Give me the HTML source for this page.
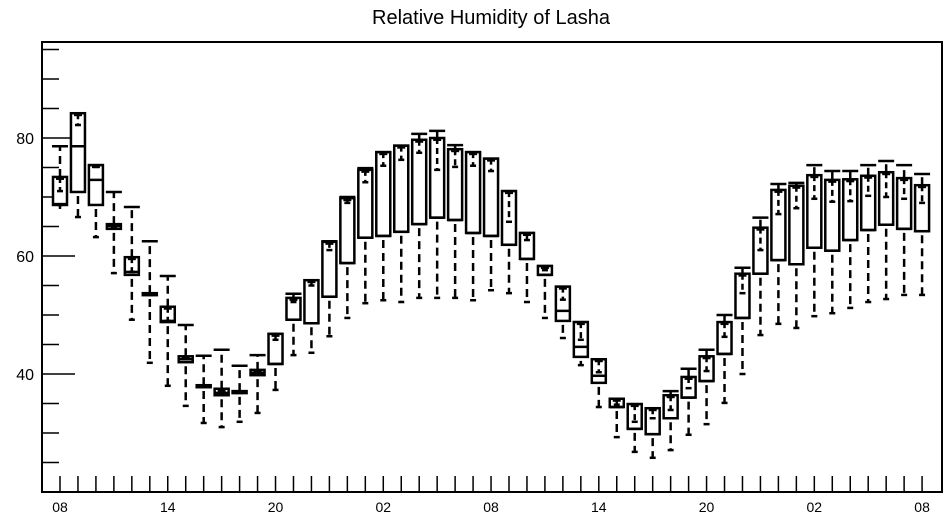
<!DOCTYPE html>
<html><head><meta charset="utf-8"><style>
html,body{margin:0;padding:0;background:#fff;}
svg{display:block;font-family:"Liberation Sans",sans-serif;}
</style></head><body>
<svg id="chart" width="947" height="520" viewBox="0 0 947 520" xmlns="http://www.w3.org/2000/svg">
<text x="491" y="24" font-size="20" text-anchor="middle" fill="#000">Relative Humidity of Lasha</text>
<g id="plot"></g>
<rect x="42" y="42" width="900" height="450" fill="none" stroke="#000" stroke-width="2"/>
</svg>
<script>
const xLabels = ["08","14","20","02","08","14","20","02","08"];
const yTicks = [40,60,80];
const mins = [68.65,66.6,63.2,57.1,49.2,41.9,38.0,34.6,31.7,31.0,31.9,33.4,37.3,43.2,43.6,46.4,49.5,52.0,52.5,52.2,52.9,52.9,52.9,52.5,54.2,53.7,52.2,49.5,46.1,41.5,34.4,29.3,26.8,25.8,27.1,29.7,31.5,35.1,40.0,46.6,48.5,47.8,49.8,50.3,51.2,52.2,52.7,53.4,53.4];
const q1s = [68.65,70.85,68.65,64.6,56.8,53.4,48.8,42.0,37.8,36.4,36.8,39.8,41.7,49.2,48.6,53.1,58.8,63.1,63.4,64.1,65.4,66.5,66.1,63.9,63.4,61.9,59.5,56.8,49.0,42.9,38.5,34.4,30.7,29.8,32.5,36.0,38.8,43.4,49.5,57.0,59.3,58.6,61.4,60.9,62.7,64.4,65.3,64.6,64.2];
const medians = [68.8,78.6,72.9,65.1,57.3,53.5,49.0,42.5,37.9,36.8,36.9,40.2,41.7,49.2,48.6,53.1,58.8,63.1,63.4,64.1,65.4,66.5,66.1,63.9,63.4,61.9,59.5,56.8,50.7,44.6,39.7,34.4,30.7,29.8,32.5,36.0,38.8,43.4,49.5,57.0,59.3,58.6,61.4,60.9,62.7,64.4,65.3,64.6,64.2];
const q3s = [73.4,84.2,75.4,65.4,59.8,53.7,51.4,43.0,38.1,37.5,37.1,40.7,46.8,52.9,55.9,62.4,69.8,74.6,77.6,78.7,79.7,80.0,78.1,77.6,76.5,71.0,63.9,58.3,54.8,48.8,42.5,35.8,34.9,34.2,36.4,39.5,43.0,48.8,57.0,64.8,71.2,71.9,73.7,72.9,73.0,73.6,74.2,73.2,72.0];
const maxs = [78.6,84.2,75.4,70.85,68.3,62.5,56.6,48.3,43.1,44.1,41.4,43.2,46.8,53.6,55.9,62.5,70.0,74.9,77.6,78.7,80.7,81.2,78.8,77.6,76.5,71.0,63.9,58.3,54.8,48.8,42.5,35.8,34.9,34.2,37.1,40.9,44.1,50.0,58.0,66.5,72.2,72.4,75.4,74.4,74.4,75.4,76.1,75.4,73.9];
const means = [71.0,82.2,75.1,64.9,57.3,53.5,49.0,42.5,37.9,36.8,36.9,40.2,45.8,52.2,55.0,61.0,69.0,72.5,75.3,76.3,77.5,74.6,75.1,75.3,74.4,65.8,62.7,57.6,52.6,45.8,40.3,34.8,31.9,32.5,33.9,37.6,40.5,46.3,53.7,61.0,67.1,68.1,69.7,69.2,69.3,70.2,70.0,69.7,69.0];

const NS = "http://www.w3.org/2000/svg";
const g = document.getElementById("plot");
const X0 = 42, X1 = 942, Y0 = 42, Y1 = 492;
const xScale = i => 60 + i * 17.96;
const yScale = v => 138 + (80 - v) * 5.9;
function mk(tag, attrs) {
  const e = document.createElementNS(NS, tag);
  for (const k in attrs) e.setAttribute(k, attrs[k]);
  g.appendChild(e);
  return e;
}
// y ticks: minor every 5, major with labels
for (let v = 25; v <= 95; v += 5) {
  const y = yScale(v);
  const major = yTicks.indexOf(v) >= 0;
  const t = mk("line", {x1: X0, x2: X0 + (major ? 33 : 17), y1: y, y2: y, stroke: "#000", "stroke-width": 1.5});
  
  
}
yTicks.forEach(v => {
  const t = mk("text", {x: 34, y: yScale(v) + 6, "font-size": 16, "text-anchor": "end", fill: "#000"});
  t.textContent = v;
  
  
});
// x ticks
for (let i = 0; i < means.length; i++) {
  const x = xScale(i);
  const t = mk("line", {x1: x, x2: x, y1: Y1, y2: Y1 - 16, stroke: "#000", "stroke-width": 1.5});
  
  
}
xLabels.forEach((lab, k) => {
  const t = mk("text", {x: xScale(k * 6), y: 512, "font-size": 14, "text-anchor": "middle", fill: "#000"});
  t.textContent = lab;
  
  
});
// boxes
const W = 14;
for (let i = 0; i < means.length; i++) {
  const x = xScale(i);
  const yq1 = yScale(q1s[i]), yq3 = yScale(q3s[i]);
  const lw = mk("line", {x1: x, x2: x, y1: yq1 + 4, y2: yScale(mins[i]), stroke: "#000", "stroke-width": 2.5, "stroke-dasharray": "8,5"});
  
  
  const lc = mk("line", {x1: x - 3, x2: x + 3, y1: yScale(mins[i]), y2: yScale(mins[i]), stroke: "#000", "stroke-width": 2.5});
  
  
  const uw = mk("line", {x1: x, x2: x, y1: yq3, y2: yScale(maxs[i]), stroke: "#000", "stroke-width": 2.5, "stroke-dasharray": "8,5"});
  
  
  const mc = mk("line", {x1: x - 8, x2: x + 8, y1: yScale(maxs[i]), y2: yScale(maxs[i]), stroke: "#000", "stroke-width": 2.5});
  
  
  const b = mk("rect", {x: x - W / 2, y: yq3, width: W, height: Math.max(yq1 - yq3, 2), fill: "#fff", stroke: "#000", "stroke-width": 2.5});
  
  
  const md = mk("line", {x1: x - W / 2, x2: x + W / 2, y1: yScale(medians[i]), y2: yScale(medians[i]), stroke: "#000", "stroke-width": 2.5});
  
  
  const mt = mk("line", {x1: x - 4, x2: x + 4, y1: yq3 + 2, y2: yq3 + 2, stroke: "#000", "stroke-width": 2});
  
  
  const ml = mk("line", {x1: x, x2: x, y1: yq3, y2: yScale(means[i]), stroke: "#000", "stroke-width": 2.5, "stroke-dasharray": "6,4"});
  
  
  const mm = mk("line", {x1: x - 3, x2: x + 3, y1: yScale(means[i]), y2: yScale(means[i]), stroke: "#000", "stroke-width": 2.5});
  
  
}
</script>
</body></html>
